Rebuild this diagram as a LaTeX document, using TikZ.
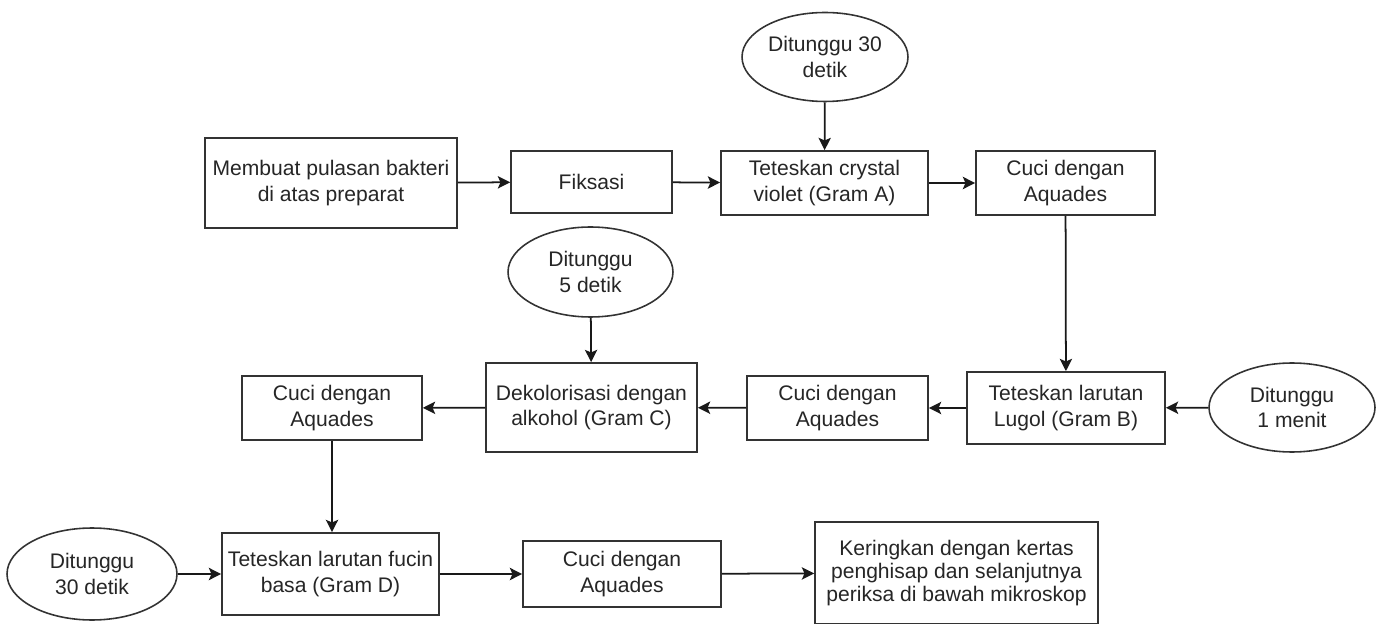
\documentclass[tikz,border=0pt]{standalone}
\usepackage{fontspec}
\setmainfont{Liberation Sans}
\usetikzlibrary{shapes.geometric,arrows.meta}

\begin{document}
\begin{tikzpicture}[x=0.02cm,y=-0.02cm,
  every node/.style={font=\fontsize{12}{14.5}\selectfont, text=black!85, align=center, inner sep=0pt},
  box/.style={draw=black!80, line width=1pt, rectangle, fill=white},
  wait/.style={draw=black!80, line width=0.9pt, ellipse, fill=white},
  flow/.style={draw=black!90, line width=1pt, -{Stealth[length=7pt,width=7pt,inset=1.5pt]}}]
\useasboundingbox (0,0) rectangle (1381,624);

% top row
\node[box, minimum width=5.04cm, minimum height=1.80cm] (b1) at (331,183) {Membuat pulasan bakteri\\di atas preparat};
\node[box, minimum width=3.22cm, minimum height=1.24cm] (b2) at (591.5,182) {Fiksasi};
\node[box, minimum width=4.14cm, minimum height=1.28cm] (b3) at (824.5,183) {Teteskan crystal\\violet (Gram A)};
\node[wait, minimum width=3.32cm, minimum height=1.78cm] (e1) at (825,57) {Ditunggu 30\\detik};
\node[box, minimum width=3.58cm, minimum height=1.28cm] (b4) at (1065.5,183) {Cuci dengan\\Aquades};

% middle row
\node[box, minimum width=3.96cm, minimum height=1.44cm] (b5) at (1066,408) {Teteskan larutan\\Lugol (Gram B)};
\node[wait, minimum width=3.32cm, minimum height=1.78cm] (e2) at (1292,407.5) {Ditunggu\\1 menit};
\node[box, minimum width=3.62cm, minimum height=1.28cm] (b6) at (837.5,408) {Cuci dengan\\Aquades};
\node[box, minimum width=4.22cm, minimum height=1.78cm] (b7) at (591.5,407.5) {Dekolorisasi dengan\\alkohol (Gram C)};
\node[wait, minimum width=3.30cm, minimum height=1.80cm] (e3) at (590.5,272) {Ditunggu\\5 detik};
\node[box, minimum width=3.60cm, minimum height=1.28cm] (b8) at (332,408) {Cuci dengan\\Aquades};

% bottom row
\node[box, minimum width=4.34cm, minimum height=1.64cm] (b9) at (330.5,574) {Teteskan larutan fucin\\basa (Gram D)};
\node[wait, minimum width=3.40cm, minimum height=1.84cm] (e4) at (92,574) {Ditunggu\\30 detik};
\node[box, minimum width=3.96cm, minimum height=1.32cm] (b10) at (622,574) {Cuci dengan\\Aquades};
\node[box, minimum width=5.66cm, minimum height=2.04cm, font=\fontsize{12}{13.2}\selectfont] (b11) at (956.5,573) {Keringkan dengan kertas\\penghisap dan selanjutnya\\periksa di bawah mikroskop};

% connectors
\draw[flow] (b1) -- (b2);
\draw[flow] (b2) -- (b3);
\draw[flow] (e1) -- (b3);
\draw[flow] (b3) -- (b4);
\draw[flow] (b4) -- (b5);
\draw[flow] (e2) -- (b5);
\draw[flow] (b5) -- (b6);
\draw[flow] (b6) -- (b7);
\draw[flow] (e3) -- (b7);
\draw[flow] (b7) -- (b8);
\draw[flow] (b8.south) -- (b8.south |- b9.north);
\draw[flow] (e4) -- (b9);
\draw[flow] (b9) -- (b10);
\draw[flow] (b10) -- (b11);
\end{tikzpicture}
\end{document}
